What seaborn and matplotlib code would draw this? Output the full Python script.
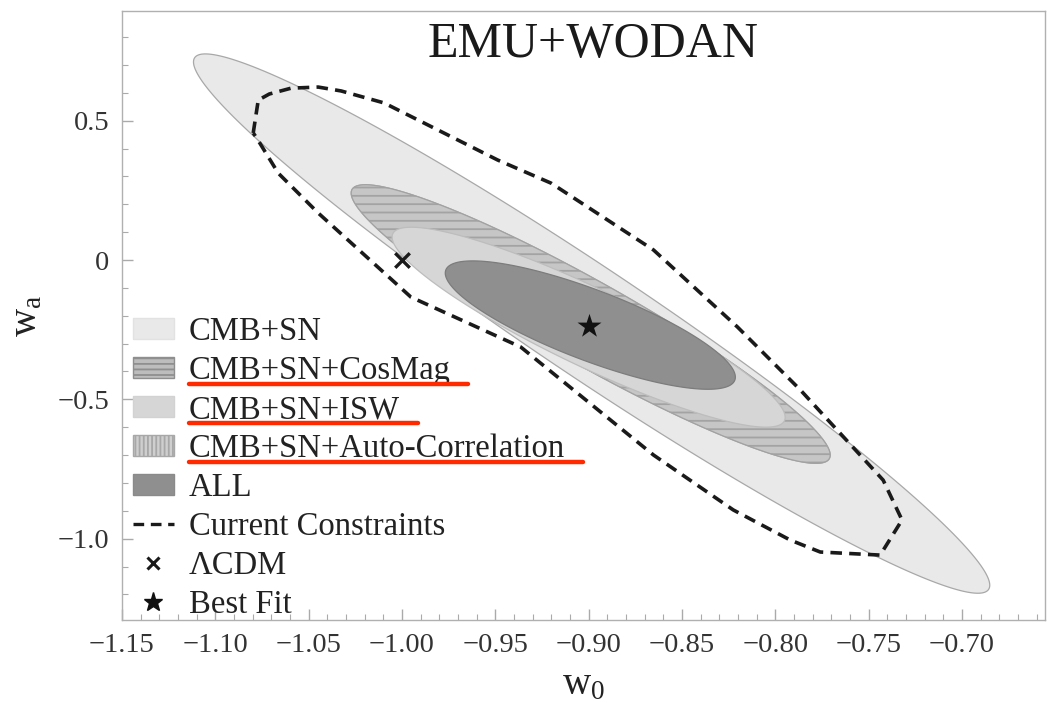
import numpy as np
import matplotlib
matplotlib.use("Agg")
import matplotlib.pyplot as plt
import seaborn as sns
import pandas as pd
from matplotlib.lines import Line2D
from matplotlib.patches import Patch
from matplotlib.ticker import FixedLocator, MultipleLocator

# ---------------- data ----------------
x_ticks = [-1.15, -1.10, -1.05, -1.00, -0.95, -0.90, -0.85, -0.80, -0.75, -0.70]
x_tick_labels = ["\u22121.15", "\u22121.10", "\u22121.05", "\u22121.00", "\u22120.95",
                 "\u22120.90", "\u22120.85", "\u22120.80", "\u22120.75", "\u22120.70"]
y_ticks = [0.5, 0.0, -0.5, -1.0]
y_tick_labels = ["0.5", "0", "\u22120.5", "\u22121.0"]

labels = ["CMB+SN", "CMB+SN+CosMag", "CMB+SN+ISW", "CMB+SN+Auto-Correlation", "ALL"]
# ellipse centre (w0, wa), offset to leftmost tip (dw0, dwa), vertical half-height at centre
ell_center_w0 = [-0.8984, -0.8989, -0.9000, -0.8989, -0.8991]
ell_center_wa = [-0.228, -0.2297, -0.2410, -0.2297, -0.2334]
ell_tip_dw0 = [-0.2133, -0.1283, -0.1053, -0.1283, -0.0777]
ell_tip_dwa = [0.939, 0.4702, 0.3236, 0.4702, 0.1867]
ell_half_h = [0.235, 0.17, 0.155, 0.17, 0.135]

# current constraints contour
cc_w0 = [-1.0797, -1.0770, -1.0711, -1.0594, -1.0449, -1.0326, -1.0096, -0.9487, -0.9201,
         -0.8652, -0.8203, -0.7866, -0.7422, -0.7321, -0.7438, -0.7759, -0.7920, -0.8225,
         -0.8652, -0.9364, -0.9952, -1.0449, -1.0663, -1.0781, -1.0797]
cc_wa = [0.456, 0.574, 0.596, 0.617, 0.621, 0.607, 0.564, 0.359, 0.276,
         0.036, -0.240, -0.466, -0.790, -0.933, -1.059, -1.048, -1.005, -0.897,
         -0.700, -0.312, -0.133, 0.169, 0.312, 0.441, 0.456]

lcdm = (-1.0, 0.0)
best_fit = (-0.90, -0.235)

title = "EMU+WODAN"
underlined = ["CMB+SN+CosMag", "CMB+SN+ISW", "CMB+SN+Auto-Correlation"]

# ---------------- style ----------------
sns.set_theme(style="white")
plt.rcParams["font.family"] = ["Liberation Serif", "DejaVu Serif"]
plt.rcParams["mathtext.fontset"] = "custom"
plt.rcParams["mathtext.rm"] = "Liberation Serif"
plt.rcParams["mathtext.it"] = "Liberation Serif"
plt.rcParams["hatch.linewidth"] = 1.3

fig = plt.figure(figsize=(10.47, 7.07), dpi=100)
ax = fig.add_axes([122 / 1047, (707 - 620) / 707, (1045 - 122) / 1047, (620 - 11) / 707])

face = ["#e9e9e9", "#c6c6c6", "#d6d6d6", "#cdcdcd", "#8f8f8f"]
edge = ["#a8a8a8", "#a2a2a2", "#bdbdbd", "#a8a8a8", "#7c7c7c"]
zord = [1.0, 1.1, 1.2, 1.05, 1.3]

t = np.linspace(0, 2 * np.pi, 400)
for i in range(len(labels)):
    xs = ell_center_w0[i] + np.cos(t) * ell_tip_dw0[i]
    ys = ell_center_wa[i] + np.cos(t) * ell_tip_dwa[i] + np.sin(t) * ell_half_h[i]
    if labels[i] == "CMB+SN+CosMag":
        ax.fill(xs, ys, facecolor=face[i], edgecolor="#a3a3a3", hatch="--", linewidth=0, zorder=zord[i])
        ax.fill(xs, ys, facecolor="none", edgecolor=edge[i], linewidth=0.9, zorder=zord[i] + 0.01)
    else:
        ax.fill(xs, ys, facecolor=face[i], edgecolor=edge[i], linewidth=0.9, zorder=zord[i])

ax.plot(cc_w0, cc_wa, ls=(0, (3.2, 2.0)), color="#1a1a1a", lw=2.6, zorder=3)

pts = pd.DataFrame({"w0": [lcdm[0], best_fit[0]], "wa": [lcdm[1], best_fit[1]],
                    "kind": ["LCDM", "Best"]})
sns.scatterplot(data=pts[pts.kind == "LCDM"], x="w0", y="wa", marker="x", s=110,
                color="#1a1a1a", linewidth=2.4, ax=ax, legend=False, zorder=4)
sns.scatterplot(data=pts[pts.kind == "Best"], x="w0", y="wa", marker="*", s=330,
                color="#111111", linewidth=0, ax=ax, legend=False, zorder=4)

ax.set_xlim(-1.15, -0.6555)
ax.set_ylim(-1.292, 0.894)

ax.xaxis.set_major_locator(FixedLocator(x_ticks))
ax.set_xticklabels(x_tick_labels)
ax.xaxis.set_minor_locator(MultipleLocator(0.01))
ax.yaxis.set_major_locator(FixedLocator(y_ticks))
ax.set_yticklabels(y_tick_labels)
ax.yaxis.set_minor_locator(MultipleLocator(0.1))
ax.tick_params(which="both", direction="in", colors="#aaaaaa", labelcolor="#333333",
               top=False, right=False, bottom=True, left=True)
ax.tick_params(which="major", length=8, width=1, labelsize=20.5, pad=9)
ax.tick_params(which="minor", length=4, width=0.8)
for s in ax.spines.values():
    s.set_color("#b0b0b0")
    s.set_linewidth(1.0)

ax.set_xlabel(r"$\mathrm{w}_0$", fontsize=28, color="#222222", labelpad=6)
ax.set_ylabel(r"$\mathrm{w}_\mathrm{a}$", fontsize=28, color="#222222", labelpad=9)

ax.text(0.51, 0.944, title, transform=ax.transAxes, ha="center", va="center",
        fontsize=36, color="#1a1a1a")

handles = [
    Patch(facecolor=face[0], edgecolor="#e2e2e2"),
    Patch(facecolor="#bdbdbd", edgecolor="#8f8f8f", hatch="---"),
    Patch(facecolor=face[2], edgecolor="#d2d2d2"),
    Patch(facecolor="#cfcfcf", edgecolor="#a8a8a8", hatch="||||"),
    Patch(facecolor=face[4], edgecolor="#8a8a8a"),
    Line2D([], [], ls=(0, (3.2, 2.0)), color="#1a1a1a", lw=2.4),
    Line2D([], [], marker="x", color="#1a1a1a", ms=9, mew=2.2, ls="none"),
    Line2D([], [], marker="*", color="#111111", ms=14, ls="none"),
]
leg_labels = labels + ["Current Constraints", "\u039bCDM", "Best Fit"]
leg = ax.legend(handles, leg_labels, loc="lower left", bbox_to_anchor=(0.012, 0.0),
                frameon=False, fontsize=23.5, handlelength=1.25, handleheight=0.62,
                handletextpad=0.45, labelspacing=0.26, borderaxespad=0.0, borderpad=0.0)
for txt in leg.get_texts():
    txt.set_color("#222222")

fig.canvas.draw()
renderer = fig.canvas.get_renderer()
inv = fig.transFigure.inverted()
for txt in leg.get_texts():
    if txt.get_text() in underlined:
        bb = txt.get_window_extent(renderer)
        (x0, y0), (x1, y1) = inv.transform([[bb.x0, bb.y0 + 2], [bb.x1 + 18, bb.y0 + 2]])
        fig.add_artist(Line2D([x0, x1], [y0, y1], color="#ff2a00", lw=3.2,
                              transform=fig.transFigure))

fig.savefig("out.png", dpi=100)
